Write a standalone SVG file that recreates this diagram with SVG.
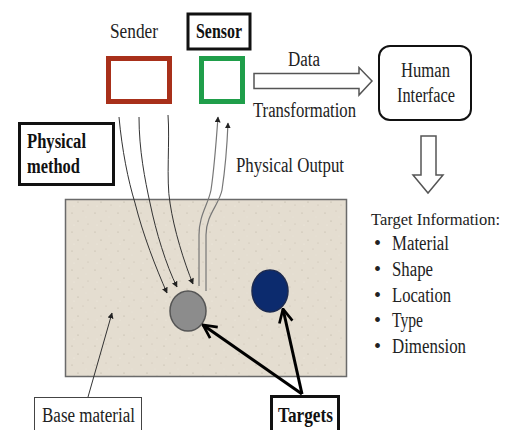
<svg xmlns="http://www.w3.org/2000/svg" width="509" height="430" viewBox="0 0 509 430">
<style>
text{font-family:"Liberation Serif","Times New Roman",serif;font-size:20px;fill:#222}
.b{font-weight:bold;fill:#111}
.thin{fill:none;stroke:#333;stroke-width:1}
.sens{fill:none;stroke:#777;stroke-width:1.2}
.thick{fill:none;stroke:#000;stroke-width:3}
</style>
<defs>
<marker id="tri" viewBox="0 0 10 10" refX="9" refY="5" markerWidth="6" markerHeight="6" markerUnits="userSpaceOnUse" orient="auto">
<path d="M0,0 L10,5 L0,10 z" fill="#222"/>
</marker>
<marker id="chev" viewBox="0 0 12 12" refX="11" refY="6" markerWidth="16" markerHeight="16" markerUnits="userSpaceOnUse" orient="auto">
<path d="M1,1 L11,6 L1,11" fill="none" stroke="#000" stroke-width="2"/>
</marker>
<pattern id="sand" width="23" height="19" patternUnits="userSpaceOnUse">
<rect width="23" height="19" fill="#e4ddd0"/>
<circle cx="3" cy="4" r="0.6" fill="#b9b1a2"/>
<circle cx="14" cy="2" r="0.5" fill="#c4bcad"/>
<circle cx="9" cy="12" r="0.6" fill="#b5ad9e"/>
<circle cx="19" cy="15" r="0.5" fill="#bfb7a8"/>
<circle cx="17" cy="8" r="0.4" fill="#f3efe6"/>
<circle cx="5" cy="16" r="0.5" fill="#f3efe6"/>
</pattern>
</defs>

<g id="base-material">
<rect x="65.5" y="199.5" width="281" height="177" fill="url(#sand)" stroke="#6a6a6a" stroke-width="1.5"/>
</g>

<g id="sender">
<rect x="108.5" y="58.5" width="61" height="43" fill="#fff" stroke="#a8301a" stroke-width="5"/>
<text x="110" y="38" textLength="48" lengthAdjust="spacingAndGlyphs">Sender</text>
</g>

<g id="sensor">
<rect x="201.5" y="58.5" width="41" height="43" fill="#fff" stroke="#1f9e4a" stroke-width="5"/>
<rect x="188" y="14" width="62" height="35" fill="#fff" stroke="#111" stroke-width="3"/>
<text class="b" x="196" y="38" textLength="46" lengthAdjust="spacingAndGlyphs">Sensor</text>
</g>

<g id="physical-method">
<rect x="19.5" y="123.5" width="94" height="61" fill="#fff" stroke="#111" stroke-width="3"/>
<text class="b" x="27" y="148" textLength="59" lengthAdjust="spacingAndGlyphs">Physical</text>
<text class="b" x="27" y="173" textLength="53" lengthAdjust="spacingAndGlyphs">method</text>
</g>

<g id="human-interface">
<rect x="379" y="46" width="92" height="74" rx="11" fill="#fff" stroke="#111" stroke-width="2"/>
<text x="401" y="77" textLength="49" lengthAdjust="spacingAndGlyphs">Human</text>
<text x="397" y="102" textLength="58" lengthAdjust="spacingAndGlyphs">Interface</text>
</g>

<g id="gray-target">
<ellipse cx="188" cy="311" rx="18" ry="20" fill="#8c8c8c" stroke="#555" stroke-width="1.5"/>
</g>
<g id="blue-target">
<ellipse cx="270" cy="291" rx="18" ry="21" fill="#0c2b6e" stroke="#1c2a50" stroke-width="1.5"/>
</g>

<g id="targets-label">
<rect x="271.5" y="396.5" width="67" height="40" fill="#fff" stroke="#111" stroke-width="3"/>
<text class="b" x="278" y="422" textLength="55" lengthAdjust="spacingAndGlyphs">Targets</text>
</g>

<g id="base-material-label">
<rect x="34.5" y="397.5" width="107" height="40" fill="#fff" stroke="#444" stroke-width="1"/>
<text x="42" y="422" textLength="93" lengthAdjust="spacingAndGlyphs">Base material</text>
</g>

<g id="target-information">
<text x="371" y="225" style="font-size:17px" textLength="129" lengthAdjust="spacingAndGlyphs">Target Information:</text>
<text x="374" y="250">•</text><text x="392" y="250" textLength="57" lengthAdjust="spacingAndGlyphs">Material</text>
<text x="374" y="276">•</text><text x="392" y="276" textLength="41" lengthAdjust="spacingAndGlyphs">Shape</text>
<text x="374" y="302">•</text><text x="392" y="302" textLength="59" lengthAdjust="spacingAndGlyphs">Location</text>
<text x="374" y="327">•</text><text x="392" y="327" textLength="31" lengthAdjust="spacingAndGlyphs">Type</text>
<text x="374" y="353">•</text><text x="392" y="353" textLength="74" lengthAdjust="spacingAndGlyphs">Dimension</text>
</g>

<g id="connectors">
<path class="thin" d="M119,117 C122,150 128,180 135,203 C143,235 156,268 167,293" marker-end="url(#tri)"/>
<path class="thin" d="M139,117 C139,150 145,180 150,203 C156,232 166,265 177,287" marker-end="url(#tri)"/>
<path class="thin" d="M168,115 C170,140 166,180 170,203 C174,230 184,262 193,284" marker-end="url(#tri)"/>
<path class="sens" d="M199,286 L199,235 C199,215 208,205 211,190 C214,170 216,145 218,117" marker-end="url(#tri)"/>
<path class="sens" d="M206,291 L206,235 C206,215 219,205 222,190 C225,170 227,148 228,123" marker-end="url(#tri)"/>
<path class="thick" d="M302,394 L203,325" marker-end="url(#chev)"/>
<path class="thick" d="M302,394 L283,309" marker-end="url(#chev)"/>
<path class="thin" d="M88,397 L112,313" marker-end="url(#tri)"/>
<polygon points="254,73.5 359,73.5 359,67.5 372,81 359,95 359,88.5 254,88.5" fill="#fff" stroke="#555" stroke-width="1.5"/>
<polygon points="421,136 436,136 436,175 443,175 428,193 413,175 421,175" fill="#fff" stroke="#555" stroke-width="1.5"/>
<text x="288" y="66" textLength="32" lengthAdjust="spacingAndGlyphs">Data</text>
<text x="253" y="117" textLength="103" lengthAdjust="spacingAndGlyphs">Transformation</text>
<text x="236" y="172" textLength="108" lengthAdjust="spacingAndGlyphs">Physical Output</text>
</g>
</svg>
